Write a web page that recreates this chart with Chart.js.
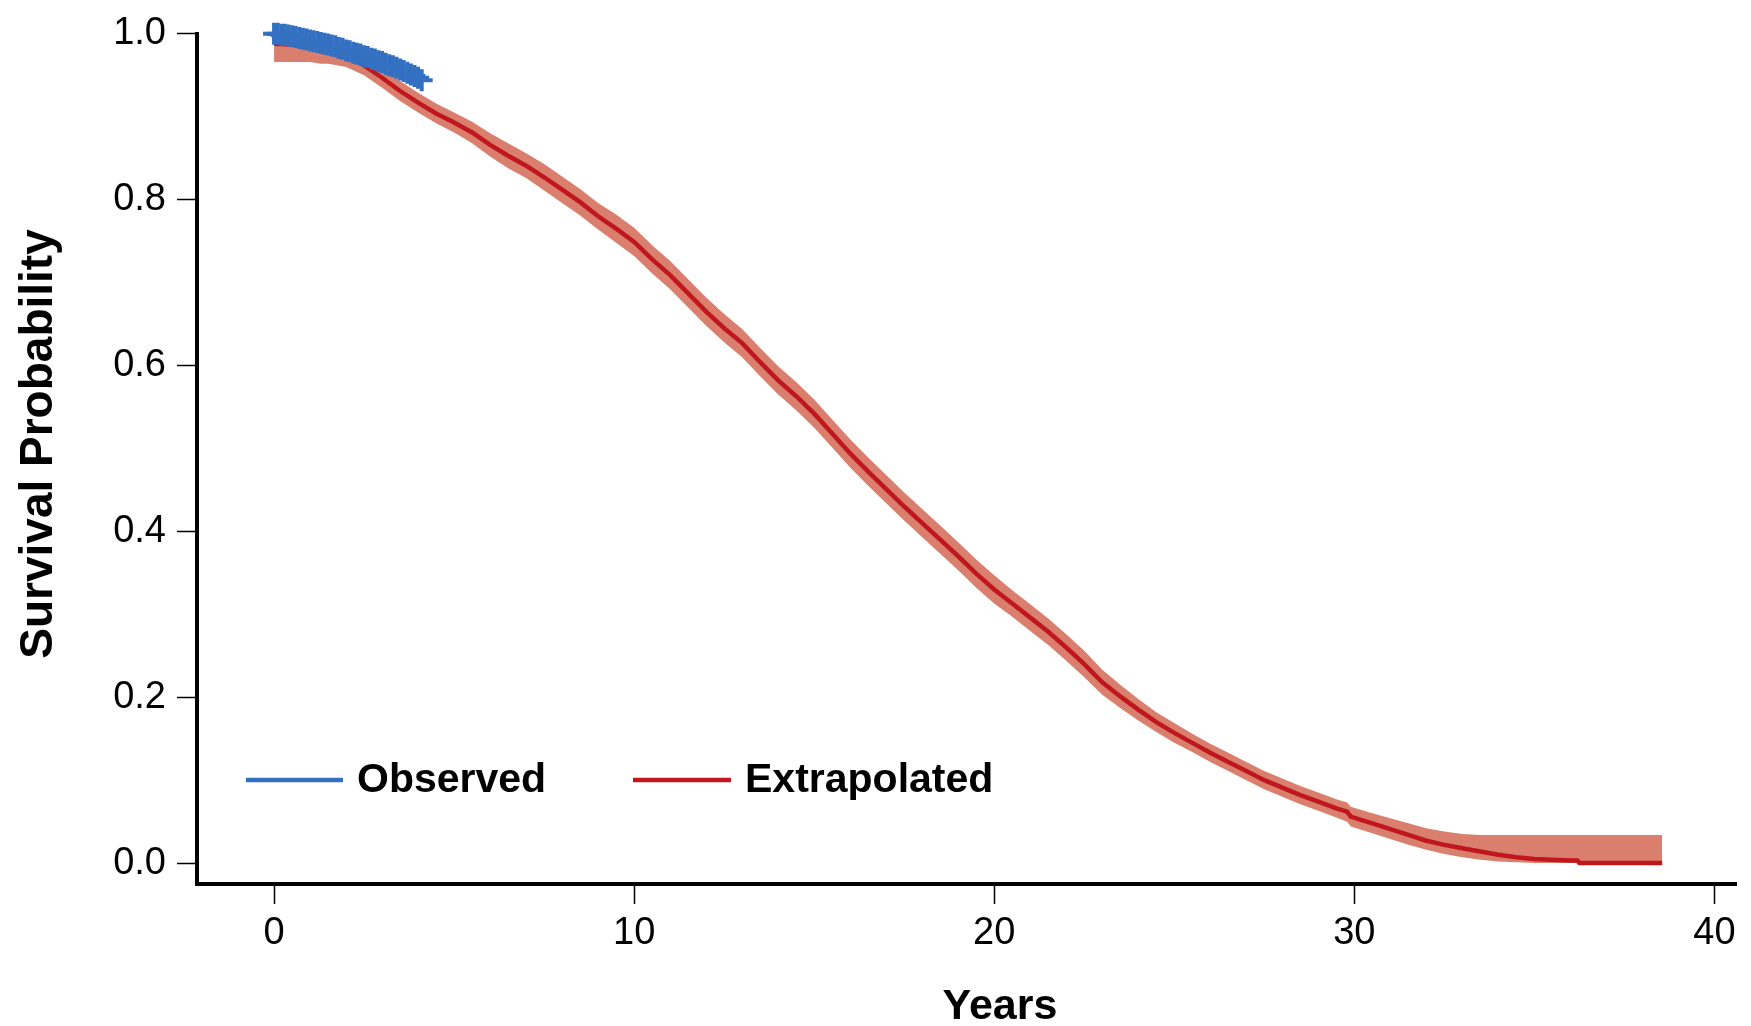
<!DOCTYPE html>
<html>
<head>
<meta charset="utf-8">
<script src="https://cdn.jsdelivr.net/npm/chart.js@4"></script>
<style>
  html, body { margin: 0; padding: 0; background: #fff; }
  #wrap { width: 1751px; height: 1026px; }
</style>
</head>
<body>
<div id="wrap"><canvas id="c" width="1751" height="1026"></canvas></div>
<script>
// ---------- data ----------
const obsTime = [0.0,0.1,0.2,0.3,0.4,0.5,0.6,0.7,0.8,0.9,1.0,1.1,1.2,1.3,1.4,1.5,1.6,1.7,1.8,1.9,2.0,2.1,2.2,2.3,2.4,2.5,2.6,2.7,2.8,2.9,3.0,3.1,3.2,3.3,3.4,3.5,3.6,3.7,3.8,3.9,4.0,4.1];
const obsSurv = [1.000,1.000,0.999,0.999,0.998,0.997,0.996,0.995,0.994,0.993,0.992,0.991,0.990,0.989,0.988,0.987,0.986,0.985,0.983,0.982,0.980,0.979,0.977,0.976,0.975,0.973,0.972,0.970,0.969,0.967,0.966,0.964,0.962,0.961,0.959,0.957,0.955,0.953,0.951,0.949,0.947,0.944];

const extTime = [0,0.5,1.0,1.3,1.5,1.9,2.0,2.5,3.0,3.5,4.0,4.5,5.0,5.5,6.0,6.5,7.0,7.5,8.0,8.5,9.0,9.5,10.0,10.5,11.0,11.5,12.0,12.5,13.0,13.5,14.0,14.5,15.0,15.5,16.0,16.5,17.0,17.5,18.0,18.5,19.0,19.5,20.0,20.5,21.0,21.5,22.0,22.5,23.0,23.5,24.0,24.5,25.0,25.5,26.0,26.5,27.0,27.5,28.0,28.5,29.0,29.5,29.8,29.9,30.5,31.0,31.5,32.0,32.5,33.0,33.5,34.0,34.5,35.0,35.5,36.0,36.2,36.25,38.55];
const extSurv = [0.988,0.987,0.986,0.985,0.983,0.977,0.975,0.962,0.947,0.931,0.917,0.904,0.893,0.881,0.866,0.853,0.841,0.827,0.812,0.797,0.780,0.765,0.749,0.728,0.709,0.687,0.665,0.645,0.627,0.604,0.582,0.563,0.542,0.518,0.494,0.472,0.451,0.430,0.410,0.390,0.370,0.349,0.330,0.313,0.296,0.279,0.260,0.240,0.218,0.201,0.185,0.170,0.157,0.145,0.133,0.122,0.111,0.100,0.091,0.082,0.074,0.066,0.062,0.056,0.048,0.041,0.034,0.027,0.022,0.018,0.014,0.010,0.007,0.005,0.004,0.003,0.003,0.000,0.000];
const ciLower = [0.966,0.966,0.966,0.964,0.964,0.961,0.960,0.950,0.935,0.919,0.905,0.892,0.881,0.868,0.852,0.838,0.826,0.811,0.796,0.781,0.764,0.748,0.732,0.711,0.692,0.670,0.648,0.628,0.610,0.587,0.565,0.546,0.525,0.501,0.477,0.455,0.434,0.413,0.393,0.373,0.353,0.332,0.313,0.297,0.280,0.263,0.244,0.224,0.203,0.187,0.172,0.158,0.145,0.134,0.122,0.111,0.100,0.089,0.080,0.071,0.063,0.055,0.050,0.044,0.036,0.029,0.022,0.016,0.011,0.007,0.004,0.002,0.001,0.000,0.000,0.000,0.000,0.000,0.000];
const ciUpper = [0.995,0.995,0.994,0.993,0.992,0.989,0.987,0.975,0.960,0.943,0.929,0.916,0.905,0.894,0.880,0.868,0.856,0.843,0.828,0.813,0.796,0.782,0.766,0.745,0.726,0.704,0.682,0.662,0.644,0.621,0.599,0.580,0.559,0.535,0.511,0.489,0.468,0.447,0.427,0.407,0.387,0.366,0.347,0.329,0.312,0.295,0.276,0.256,0.233,0.215,0.198,0.182,0.169,0.156,0.144,0.133,0.122,0.111,0.102,0.093,0.085,0.077,0.073,0.068,0.060,0.054,0.048,0.042,0.038,0.035,0.034,0.034,0.034,0.034,0.034,0.034,0.034,0.034,0.034];

const xTicks = [0,10,20,30,40];
const yTicks = [0.0,0.2,0.4,0.6,0.8,1.0];
const xTitle = "Years";
const yTitle = "Survival Probability";
const seriesNames = ["Observed","Extrapolated"];

// ---------- colours / fonts ----------
const BLUE = "#3470C1";
const RED = "#C0171E";
const BAND = "#DA7F6D";
const FONT = "'Liberation Sans', Arial, Helvetica, sans-serif";

const pts = (xs, ys) => xs.map((x, i) => ({ x: x, y: ys[i] }));

const titlesAndLegend = {
  id: 'titlesAndLegend',
  afterDraw(chart) {
    const ctx = chart.ctx;
    ctx.save();
    ctx.fillStyle = '#000';
    // y title
    ctx.font = "bold 46px " + FONT;
    ctx.textAlign = 'center';
    ctx.textBaseline = 'middle';
    ctx.translate(39, 444);
    ctx.rotate(-Math.PI / 2);
    ctx.fillText(yTitle, 0, 0);
    ctx.setTransform(1, 0, 0, 1, 0, 0);
    // x title
    ctx.font = "bold 43px " + FONT;
    ctx.textAlign = 'center';
    ctx.textBaseline = 'alphabetic';
    ctx.fillText(xTitle, 1000, 1019);
    // legend
    const items = [
      { ds: chart.data.datasets[0], x0: 246, x1: 343, tx: 357 },
      { ds: chart.data.datasets[1], x0: 633, x1: 731, tx: 745 }
    ];
    const ly = 780;
    ctx.font = "bold 41px " + FONT;
    ctx.textAlign = 'left';
    ctx.textBaseline = 'middle';
    items.forEach(it => {
      ctx.strokeStyle = it.ds.borderColor;
      ctx.lineWidth = 4.5;
      ctx.beginPath();
      ctx.moveTo(it.x0, ly);
      ctx.lineTo(it.x1, ly);
      ctx.stroke();
      ctx.fillStyle = '#000';
      ctx.fillText(it.ds.label, it.tx, ly + 1);
    });
    ctx.restore();
  }
};

new Chart(document.getElementById('c'), {
  type: 'line',
  data: {
    datasets: [
      {
        label: seriesNames[0],
        data: pts(obsTime, obsSurv),
        borderColor: BLUE,
        backgroundColor: BLUE,
        borderWidth: 7,
        stepped: 'after',
        pointStyle: 'cross',
        pointRadius: 11,
        pointBorderWidth: 4,
        pointBorderColor: BLUE,
        clip: false,
        order: 0
      },
      {
        label: seriesNames[1],
        data: pts(extTime, extSurv),
        borderColor: RED,
        backgroundColor: RED,
        borderWidth: 4.5,
        pointRadius: 0,
        tension: 0,
        order: 1
      },
      {
        label: 'CI lower',
        data: pts(extTime, ciLower),
        borderWidth: 0,
        borderColor: 'rgba(0,0,0,0)',
        pointRadius: 0,
        fill: false,
        order: 3
      },
      {
        label: 'CI upper',
        data: pts(extTime, ciUpper),
        borderWidth: 0,
        borderColor: 'rgba(0,0,0,0)',
        backgroundColor: BAND,
        pointRadius: 0,
        fill: '-1',
        order: 2
      }
    ]
  },
  options: {
    responsive: false,
    animation: false,
    devicePixelRatio: 1,
    layout: { padding: { top: 31, right: 3, left: 0, bottom: 0 } },
    plugins: {
      legend: { display: false },
      tooltip: { enabled: false },
      title: { display: false }
    },
    scales: {
      x: {
        type: 'linear',
        min: -2.14,
        max: 40.6,
        afterFit(s) { s.height = 142; },
        afterBuildTicks(s) { s.ticks = xTicks.map(v => ({ value: v })); },
        border: { display: true, color: '#000', width: 4 },
        grid: { drawOnChartArea: false, drawTicks: true, tickLength: 20, tickWidth: 1.5, tickColor: '#000', color: '#000' },
        ticks: { color: '#000', font: { family: FONT, size: 38 }, padding: 7, maxRotation: 0, callback: v => String(v) }
      },
      y: {
        type: 'linear',
        min: -0.0252,
        max: 1.0,
        afterFit(s) { s.width = 197; },
        afterBuildTicks(s) { s.ticks = yTicks.map(v => ({ value: v })); },
        border: { display: true, color: '#000', width: 4 },
        grid: { drawOnChartArea: false, drawTicks: true, tickLength: 20, tickWidth: 1.5, tickColor: '#000', color: '#000' },
        ticks: { color: '#000', font: { family: FONT, size: 38 }, padding: 11, callback: v => v.toFixed(1) }
      }
    }
  },
  plugins: [titlesAndLegend]
});
</script>
</body>
</html>
